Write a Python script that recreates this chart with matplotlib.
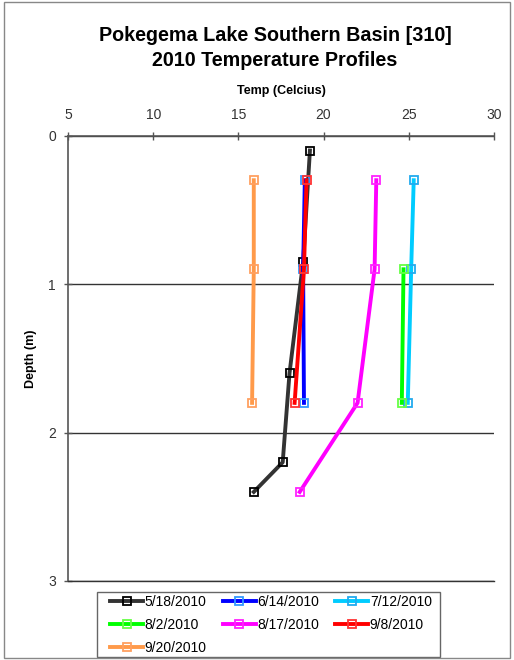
import matplotlib
matplotlib.use("Agg")
import matplotlib.pyplot as plt
from matplotlib.patches import Rectangle

plt.rcParams["font.family"] = ["Liberation Sans", "DejaVu Sans"]

# 温度剖面数据 (depth in m, temperature in Celsius)
dates = ["5/18/2010", "6/14/2010", "7/12/2010", "8/2/2010",
         "8/17/2010", "9/8/2010", "9/20/2010"]

depth_0518 = [0.1, 0.85, 1.6, 2.2, 2.4]
temp_0518 = [19.2, 18.8, 18.0, 17.6, 15.9]

depth_0614 = [0.3, 0.9, 1.8]
temp_0614 = [18.9, 18.8, 18.85]

depth_0712 = [0.3, 0.9, 1.8]
temp_0712 = [25.3, 25.15, 24.95]

depth_0802 = [0.9, 1.8]
temp_0802 = [24.7, 24.6]

depth_0817 = [0.3, 0.9, 1.8, 2.4]
temp_0817 = [23.1, 23.0, 22.0, 18.6]

depth_0908 = [0.3, 0.9, 1.8]
temp_0908 = [19.0, 18.85, 18.3]

depth_0920 = [0.3, 0.9, 1.8]
temp_0920 = [15.9, 15.9, 15.8]

depths = [depth_0518, depth_0614, depth_0712, depth_0802,
          depth_0817, depth_0908, depth_0920]
temps = [temp_0518, temp_0614, temp_0712, temp_0802,
         temp_0817, temp_0908, temp_0920]

line_colors = ["#333333", "#0000FF", "#00CCFF", "#00FF00",
               "#FF00FF", "#FF0000", "#FF9A4A"]
marker_colors = ["#000000", "#3399FF", "#22AAEE", "#66FF44",
                 "#FF22FF", "#FF3333", "#FFA060"]

fig = plt.figure(figsize=(5.14, 6.6), dpi=100)
ax = fig.add_axes([0.1329, 0.1197, 0.8276, 0.6747])

handles = []
for d, t, lab, lc, mc in zip(depths, temps, dates, line_colors, marker_colors):
    h, = ax.plot(t, d, color=lc, lw=2.8, marker="s", markersize=6,
                 markerfacecolor="none", markeredgecolor=mc, markeredgewidth=1.3,
                 label=lab)
    handles.append(h)

ax.set_xlim(5, 30)
ax.set_ylim(3, 0)
ax.set_xticks([5, 10, 15, 20, 25, 30])
ax.set_yticks([0, 1, 2, 3])
ax.xaxis.tick_top()
ax.xaxis.set_label_position("top")
ax.tick_params(axis="both", direction="inout", length=6, width=1,
               color="#555555", labelsize=10, labelcolor="#333333")
ax.tick_params(axis="x", top=True, bottom=False, pad=7)
ax.tick_params(axis="y", pad=6)

ax.yaxis.grid(True, color="#333333", lw=1)
ax.set_axisbelow(True)
ax.spines["right"].set_visible(False)
ax.spines["bottom"].set_color("#333333")
ax.spines["bottom"].set_linewidth(1)
for s in ["left", "top"]:
    ax.spines[s].set_color("#555555")
    ax.spines[s].set_linewidth(1.2)

ax.set_xlabel("Temp (Celcius)", fontsize=9, fontweight="bold", labelpad=10)
ax.set_ylabel("Depth (m)", fontsize=9, fontweight="bold", labelpad=8)

fig.suptitle("Pokegema Lake Southern Basin [310]\n2010 Temperature Profiles",
             x=0.535, y=0.96, fontsize=14.2, fontweight="bold", linespacing=1.35)

# Excel fills legend row by row; matplotlib fills by column
order = [0, 3, 6, 1, 4, 2, 5]
leg = fig.legend([handles[i] for i in order], [dates[i] for i in order],
                 loc="upper left", bbox_to_anchor=(0.214, 0.0, 0.626, 0.0985),
                 ncol=3, mode="expand", fontsize=10, frameon=False,
                 handlelength=2.4, handletextpad=0.1, borderpad=0,
                 labelspacing=0.65, columnspacing=0.5, borderaxespad=0)

# legend frame
fig.patches.append(Rectangle((0.1887, 0.0045), 0.6673, 0.0985, transform=fig.transFigure,
                             fill=False, edgecolor="#666666", lw=1))

# chart area border
fig.patches.append(Rectangle((0.008, 0.003), 0.985, 0.994, transform=fig.transFigure,
                             fill=False, edgecolor="#888888", lw=1))

fig.savefig("out.png", dpi=100)
